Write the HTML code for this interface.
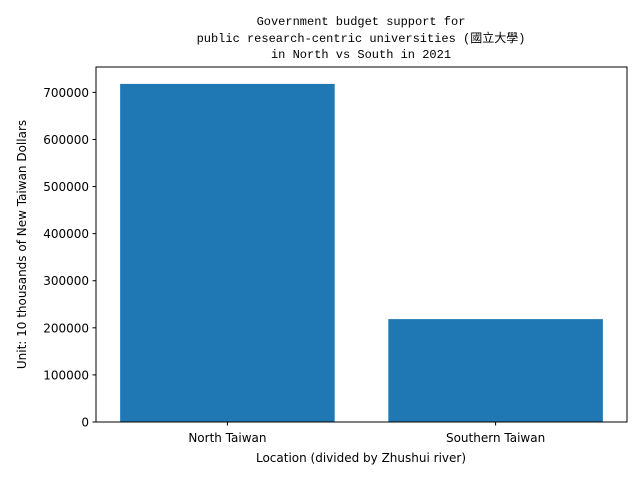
<!DOCTYPE html>
<html><head><meta charset="utf-8"><style>
body{margin:0;background:#fff}
svg{display:block}
text{font-family:"DejaVu Sans","Liberation Sans",sans-serif;font-size:12px;fill:#000}
.title{font-family:"Liberation Mono","Noto Sans CJK TC",monospace;font-size:12px}
</style></head><body>
<svg id="chart" width="640" height="480">
<text class="title" x="361" y="25" text-anchor="middle">Government budget support for</text>
<text class="title" x="361" y="42" text-anchor="middle">public research-centric universities (國立大學)</text>
<text class="title" x="361" y="58" text-anchor="middle">in North vs South in 2021</text>
<g id="bars"></g>
<g id="yticks"></g>
<g id="xticks"></g>
<rect x="96" y="67" width="531" height="355" fill="none" stroke="#000" stroke-width="1"/>
<text x="361" y="462" text-anchor="middle">Location (divided by Zhushui river)</text>
<text transform="translate(26,244.5) rotate(-90)" text-anchor="middle">Unit: 10 thousands of New Taiwan Dollars</text>
</svg>
<script>
const categories=["North Taiwan","Southern Taiwan"];
const values=[718000,218500];
const yTicks=[0,100000,200000,300000,400000,500000,600000,700000];
const L=96,R=627,T=67,B=422;
const yMax=Math.max(...values)*1.05;
const xMin=-0.49,xMax=categories.length-1+0.49;
function xs(v){return L+(v-xMin)/(xMax-xMin)*(R-L);}
function ys(v){return B-v/yMax*(B-T);}
const NS="http://www.w3.org/2000/svg";
const bars=document.getElementById('bars');
values.forEach((v,i)=>{
 const r=document.createElementNS(NS,'rect');
 r.setAttribute('x',xs(i-0.4));r.setAttribute('width',xs(i+0.4)-xs(i-0.4));
 r.setAttribute('y',ys(v));r.setAttribute('height',ys(0)-ys(v));r.setAttribute('fill','#1f77b4');
 
 
 bars.appendChild(r);
});
const yt=document.getElementById('yticks');
yTicks.forEach(t=>{
 const y=ys(t);
 const l=document.createElementNS(NS,'line');
 l.setAttribute('x1',L-3.5);l.setAttribute('x2',L);l.setAttribute('y1',y);l.setAttribute('y2',y);l.setAttribute('stroke','#000');
 
 
 yt.appendChild(l);
 const tx=document.createElementNS(NS,'text');
 tx.setAttribute('x',L-7);tx.setAttribute('y',y+4.5);tx.setAttribute('text-anchor','end');tx.textContent=t;
 
 
 yt.appendChild(tx);
});
const xt=document.getElementById('xticks');
categories.forEach((c,i)=>{
 const x=xs(i);
 const l=document.createElementNS(NS,'line');
 l.setAttribute('x1',x);l.setAttribute('x2',x);l.setAttribute('y1',B);l.setAttribute('y2',B+3.5);l.setAttribute('stroke','#000');
 
 
 xt.appendChild(l);
 const tx=document.createElementNS(NS,'text');
 tx.setAttribute('x',x);tx.setAttribute('y',B+20);tx.setAttribute('text-anchor','middle');tx.textContent=c;
 
 
 xt.appendChild(tx);
});
</script>
</body></html>
